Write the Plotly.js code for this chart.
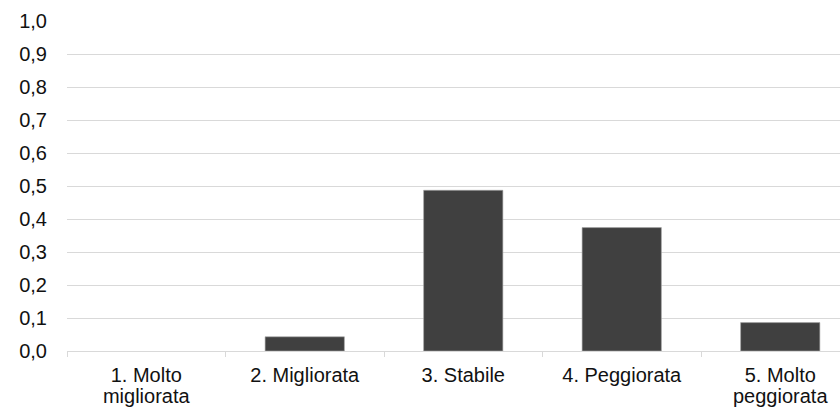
<!DOCTYPE html>
<html>
<head>
<meta charset="utf-8">
<script src="https://cdn.plot.ly/plotly-3.0.1.min.js"></script>
<style>html,body{margin:0;padding:0;background:#fff;overflow:hidden}#chart{width:840px;height:414px}</style>
</head>
<body>
<div id="chart"></div>
<script>
const categories = ["1. Molto<br>migliorata", "2. Migliorata", "3. Stabile", "4. Peggiorata", "5. Molto<br>peggiorata"];
const values = [0, 0.043, 0.487, 0.374, 0.086];
const yTickVals = [0, 0.1, 0.2, 0.3, 0.4, 0.5, 0.6, 0.7, 0.8, 0.9, 1.0];
const yTickText = ["0,0", "0,1", "0,2", "0,3", "0,4", "0,5", "0,6", "0,7", "0,8", "0,9", "1,0"];

const trace = {
  type: "bar",
  x: categories,
  y: values,
  width: 0.5,
  marker: {color: "#404040", line: {color: "#a6a6a6", width: [0, 0.6, 0.6, 0.6, 0.6]}},
  hoverinfo: "skip"
};

const layout = {
  width: 840,
  height: 414,
  margin: {l: 67, r: 0, t: 21, b: 63},
  paper_bgcolor: "#fff",
  plot_bgcolor: "#fff",
  showlegend: false,
  font: {family: "Liberation Sans, Arial, sans-serif", size: 20, color: "#111"},
  xaxis: {
    type: "category",
    range: [-0.5, 4.377],
    showgrid: false,
    showline: true,
    linecolor: "#d9d9d9",
    linewidth: 1,
    ticks: "outside",
    tickson: "boundaries",
    ticklen: 5,
    tickcolor: "#d9d9d9",
    ticklabelstandoff: 6,
    tickfont: {size: 20, color: "#111"},
    fixedrange: true
  },
  yaxis: {
    range: [0, 1.0],
    tickvals: yTickVals,
    ticktext: yTickText,
    showgrid: true,
    gridcolor: "#d9d9d9",
    gridwidth: 1,
    zeroline: false,
    showline: false,
    ticks: "",
    ticklabelstandoff: 19,
    tickfont: {size: 20, color: "#111"},
    fixedrange: true
  },
  bargap: 0.5
};

Plotly.newPlot("chart", [trace], layout, {displayModeBar: false, staticPlot: true}).then(function (gd) {
  // tighten the line spacing of two-line category labels
  gd.querySelectorAll(".xtick text tspan.line").forEach(function (t, i) {
    if (t.getAttribute("dy") && t.getAttribute("dy") !== "0em") t.setAttribute("dy", "1.03em");
  });
});
</script>
</body>
</html>
